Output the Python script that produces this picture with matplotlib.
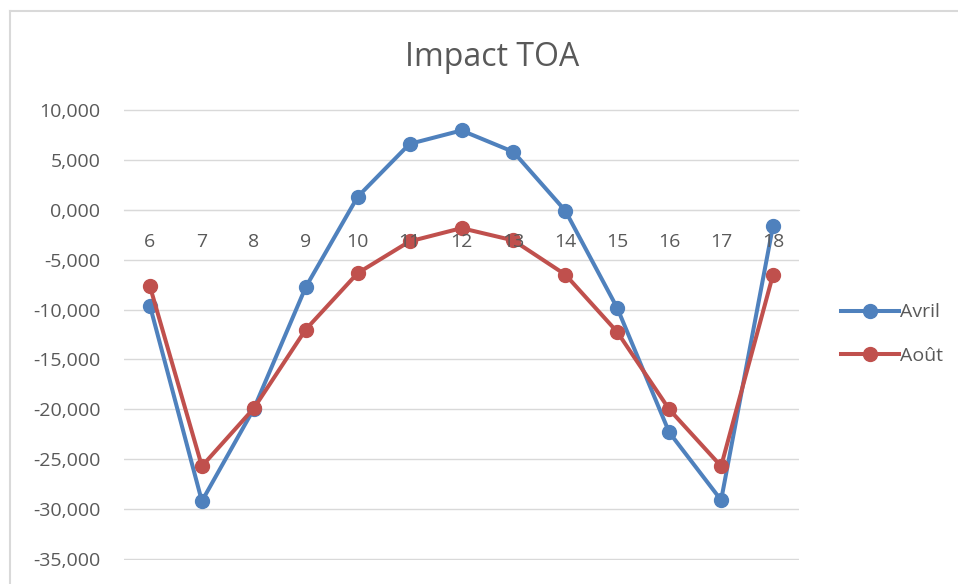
import matplotlib.pyplot as plt
from matplotlib.lines import Line2D
from matplotlib.ticker import FuncFormatter

plt.rcParams['font.family'] = ['Open Sans', 'DejaVu Sans']

# données
heures = ['6', '7', '8', '9', '10', '11', '12', '13', '14', '15', '16', '17', '18']
avril = [-9620, -29200, -19950, -7750, 1300, 6600, 7950, 5800, -100, -9850, -22300, -29100, -1600]
aout = [-7680, -25700, -19900, -12000, -6350, -3170, -1840, -3070, -6500, -12250, -20000, -25700, -6500]

bleu = '#4f81bd'
rouge = '#c0504d'
gris = '#595959'

fig = plt.figure(figsize=(9.58, 5.84), dpi=100)
ax = fig.add_axes([124/958, 24/584, 675/958, 451/584])

x = range(len(heures))
ax.plot(x, avril, color=bleu, linewidth=2.9, marker='o', markersize=10, label='Avril', solid_joinstyle='round')
ax.plot(x, aout, color=rouge, linewidth=2.9, marker='o', markersize=10, label='Août', solid_joinstyle='round')

ax.set_xlim(-0.5, len(heures) - 0.5)
ax.set_ylim(-35100, 10100)
ax.set_yticks(range(-35000, 10001, 5000))
ax.yaxis.set_major_formatter(FuncFormatter(lambda v, p: '{:.3f}'.format(v / 1000).replace('.', ',')))
ax.grid(axis='y', color='#d9d9d9', linewidth=1)
ax.set_axisbelow(True)

ax.set_xticks(list(x))
ax.set_xticklabels(heures)
ax.spines['bottom'].set_position(('data', 0))
ax.spines['bottom'].set_color('#d9d9d9')
ax.spines['bottom'].set_zorder(0.6)
for s in ['top', 'right', 'left']:
    ax.spines[s].set_visible(False)
ax.tick_params(axis='x', length=0, pad=17, labelsize=14, labelcolor=gris)
ax.tick_params(axis='y', length=0, pad=17, labelsize=14, labelcolor=gris)
# les étiquettes d'heures passent devant les courbes
ax.xaxis.set_zorder(3)

fig.text(492/958, 1 - 57/584, 'Impact TOA', ha='center', va='center', fontsize=23, color=gris)

leg = ax.legend(loc='center left', bbox_to_anchor=(823/958, 1 - 334/584), bbox_transform=fig.transFigure,
                frameon=False, fontsize=14, labelcolor=gris, handlelength=3.0, handletextpad=0.05, labelspacing=1.3)

# bordure de la zone de graphique
fig.add_artist(Line2D([10/958, 10/958], [0, 1 - 11/584], color='#d9d9d9', linewidth=1.5, transform=fig.transFigure))
fig.add_artist(Line2D([10/958, 1], [1 - 11/584, 1 - 11/584], color='#d9d9d9', linewidth=1.5, transform=fig.transFigure))

fig.savefig('out.png', dpi=100)
